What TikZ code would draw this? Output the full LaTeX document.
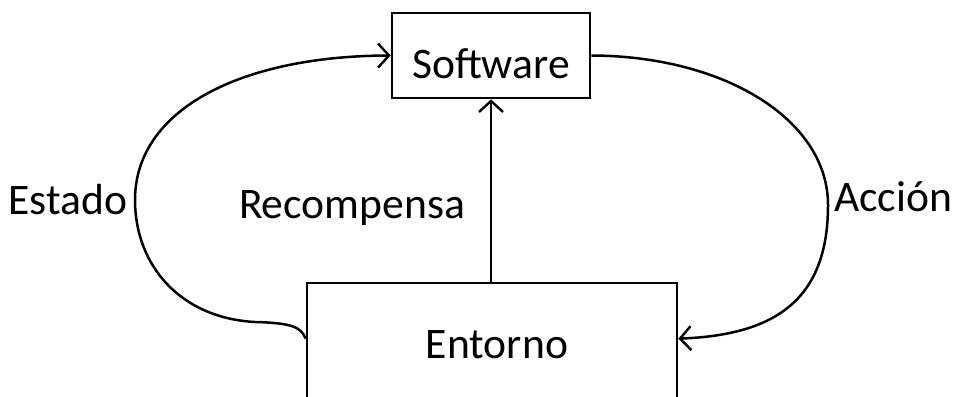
\documentclass[tikz,border=0pt]{standalone}
\usepackage{fontspec}
\setmainfont{Carlito}
\usetikzlibrary{arrows.meta,calc}
\begin{document}
\begin{tikzpicture}[x=0.5pt,y=-0.5pt,
  line width=1.25pt,
  box/.style={draw, line width=1.35pt, inner sep=0pt},
  lbl/.style={font=\fontsize{21.8}{26}\selectfont, inner sep=0pt, anchor=base},
  flow/.style={-{Straight Barb[length=5.5pt,width=12pt,line width=1.2pt]}}]
\useasboundingbox (0,0) rectangle (956,396);

% boxes
\node[box, minimum width=99pt, minimum height=42.5pt] (sw) at (491,55.5) {};
\node[box, minimum width=185pt, minimum height=65pt] (env) at (492,348) {};
\node[lbl] (swt) at (491,78) {Software};
\node[lbl] (envt) at (497,358) {Entorno};

% attachment points on the box sides
\coordinate (envL) at ($(env.north west)+(0,57)$);
\coordinate (envR) at ($(env.north east)+(0,57)$);

% reward: straight up from the environment
\draw[flow] (env.north -| sw.south) -- (sw.south);

% state: left loop into the software
\draw[flow] (envL) .. controls (301,327) and (292,323) .. (255,322)
  .. controls (180,318) and (135,265) .. (135,200)
  .. controls (135,110) and (240,56) .. (sw.west);

% action: right loop into the environment
\draw[flow] (sw.east) .. controls (725,56) and (828,120) .. (828,205)
  .. controls (828,300) and (775,335) .. (envR);

% labels
\node[lbl] (st) at (68,214) {Estado};
\node[lbl] (rw) at (352,218) {Recompensa};
\node[lbl] (ac) at (893,211) {Acción};
\end{tikzpicture}
\end{document}
